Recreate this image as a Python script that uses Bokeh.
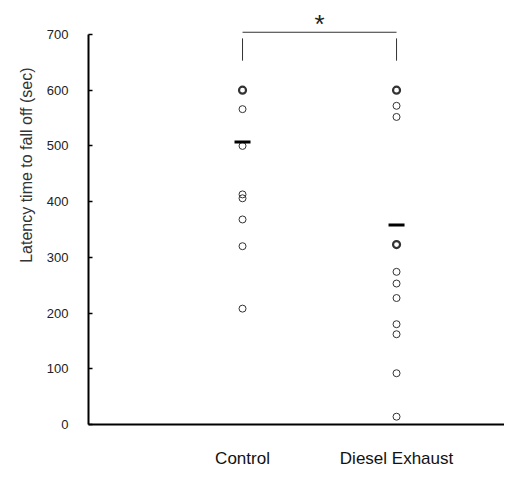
from collections import Counter

from bokeh.plotting import figure
from bokeh.models import FixedTicker, Label, ColumnDataSource, Title
from bokeh.embed import file_html
from bokeh.resources import INLINE

# ---- data ----
categories = ["Control", "Diesel Exhaust"]
control_values = [600, 600, 600, 600, 600, 600, 600, 600,
                  566, 500, 413, 406, 368, 320, 208]
diesel_values = [600, 600, 600, 600, 572, 552, 323, 323,
                 274, 253, 227, 180, 162, 92, 14]
group_means = [507, 358]
y_ticks = [0, 100, 200, 300, 400, 500, 600, 700]
bracket_y = 704
bracket_drop = [693, 653]
significance = "*"
y_title = "Latency time to fall off (sec)"

FONT = "Liberation Sans"

p = figure(width=504, height=470, output_backend="svg", toolbar_location=None,
           x_range=(0, 2.701), y_range=(0, 761),
           min_border_left=88, min_border_right=0, min_border_top=0,
           min_border_bottom=0)
p.outline_line_color = None
p.grid.visible = False
p.background_fill_color = "white"
p.border_fill_color = "white"

# points
xs, ys, lws = [], [], []
for i, vals in enumerate([control_values, diesel_values]):
    counts = Counter(vals)
    for v, c in counts.items():
        xs.append(i + 1)
        ys.append(v)
        lws.append(2.2 if c > 1 else 1.0)
src = ColumnDataSource(dict(x=xs, y=ys, lw=lws))
p.scatter("x", "y", source=src, marker="circle", size=7, fill_color=None,
          line_color="#333333", line_width="lw")

# means
p.dash([1, 2], group_means, size=16, line_width=3, line_color="black")

# significance bracket
p.segment(x0=[1], y0=[bracket_y], x1=[2], y1=[bracket_y],
          line_color="#333333", line_width=1)
p.segment(x0=[1, 2], y0=[bracket_drop[0]] * 2, x1=[1, 2],
          y1=[bracket_drop[1]] * 2, line_color="#333333", line_width=1)
p.add_layout(Label(x=1.5, y=718, text=significance,
                   text_align="center", text_baseline="middle",
                   text_font=FONT, text_font_size="26px", text_color="#222222"))

# y axis title as a side title (so it can sit above the frame centre)
p.add_layout(Title(text=y_title, align="right", offset=67, standoff=17,
                   text_font=FONT, text_font_size="16px",
                   text_font_style="normal", text_color="#333333"), "left")

# y axis
ya = p.yaxis[0]
ya.ticker = FixedTicker(ticks=y_ticks)
ya.bounds = (0, 700)
ya.axis_line_width = 2
ya.axis_line_color = "black"
ya.major_tick_in = 4
ya.major_tick_out = 0
ya.minor_tick_line_color = None
ya.major_tick_line_width = 1.5
ya.major_label_standoff = 20
ya.major_label_text_font = FONT
ya.major_label_text_font_size = "13px"
ya.major_label_text_color = "#222222"

# x axis
xa = p.xaxis[0]
xa.ticker = FixedTicker(ticks=[1, 2])
xa.major_label_overrides = {1: categories[0], 2: categories[1]}
xa.axis_line_width = 2
xa.axis_line_color = "black"
xa.major_tick_line_color = None
xa.minor_tick_line_color = None
xa.major_tick_out = 0
xa.major_tick_in = 0
xa.major_label_standoff = 24
xa.major_label_text_font = FONT
xa.major_label_text_font_size = "17px"
xa.major_label_text_color = "#111111"

open("out.html", "w").write(file_html(p, INLINE))
